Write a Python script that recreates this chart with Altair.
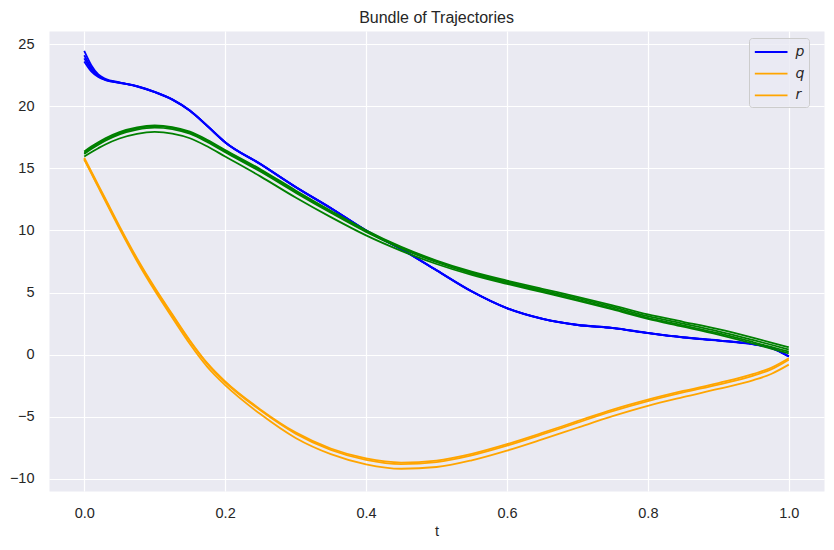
import pandas as pd
import altair as alt

# time grid shared by every trajectory
T = [0.0, 0.01, 0.02, 0.03, 0.05, 0.075, 0.1, 0.125, 0.15, 0.175, 0.2, 0.25, 0.3, 0.35,
     0.4, 0.45, 0.5, 0.55, 0.6, 0.65, 0.7, 0.75, 0.8, 0.85, 0.9, 0.95, 0.975, 1.0]

# p trajectories (blue)
P1 = [24.45, 23.30, 22.55, 22.20, 21.92, 21.62, 21.15, 20.55, 19.65, 18.40, 17.10, 15.35, 13.50, 11.80,
      10.00, 8.50, 6.80, 5.10, 3.75, 2.90, 2.40, 2.15, 1.75, 1.40, 1.15, 0.85, 0.55, -0.13]
P2 = [24.10, 23.10, 22.45, 22.15, 21.90, 21.60, 21.13, 20.52, 19.62, 18.38, 17.08, 15.33, 13.48, 11.78,
      9.98, 8.48, 6.78, 5.08, 3.73, 2.88, 2.38, 2.13, 1.73, 1.38, 1.13, 0.83, 0.53, -0.15]
P3 = [23.85, 22.95, 22.40, 22.12, 21.90, 21.62, 21.16, 20.56, 19.66, 18.41, 17.11, 15.36, 13.51, 11.81,
      10.01, 8.51, 6.81, 5.11, 3.76, 2.91, 2.41, 2.16, 1.76, 1.41, 1.16, 0.86, 0.56, -0.12]
P4 = [23.60, 22.80, 22.35, 22.10, 21.88, 21.58, 21.12, 20.53, 19.63, 18.39, 17.09, 15.34, 13.49, 11.79,
      9.99, 8.49, 6.79, 5.09, 3.74, 2.89, 2.39, 2.14, 1.74, 1.39, 1.14, 0.84, 0.54, -0.14]

# q trajectories (orange)
Q1 = [15.85, 14.75, 13.65, 12.55, 10.35, 7.75, 5.40, 3.25, 1.15, -0.70, -2.15, -4.40, -6.25, -7.55,
      -8.35, -8.68, -8.52, -7.98, -7.20, -6.30, -5.35, -4.42, -3.62, -2.92, -2.28, -1.55, -1.05, -0.28]
Q2 = [15.75, 14.65, 13.55, 12.45, 10.25, 7.65, 5.32, 3.18, 1.08, -0.76, -2.22, -4.48, -6.35, -7.66,
      -8.46, -8.80, -8.64, -8.10, -7.32, -6.42, -5.47, -4.55, -3.74, -3.04, -2.40, -1.68, -1.18, -0.40]
Q3 = [15.70, 14.60, 13.48, 12.36, 10.14, 7.52, 5.16, 2.98, 0.86, -1.00, -2.45, -4.78, -6.70, -8.00,
      -8.82, -9.18, -9.04, -8.50, -7.72, -6.82, -5.88, -4.95, -4.12, -3.42, -2.76, -2.04, -1.55, -0.80]

# r trajectories (drawn green)
R1 = [16.35, 16.75, 17.10, 17.42, 17.92, 18.30, 18.45, 18.32, 17.95, 17.28, 16.48, 14.93, 13.22, 11.58,
      10.02, 8.68, 7.58, 6.68, 5.96, 5.30, 4.66, 3.97, 3.24, 2.65, 2.05, 1.35, 0.98, 0.60]
R2 = [16.25, 16.65, 17.00, 17.32, 17.83, 18.22, 18.37, 18.25, 17.87, 17.20, 16.40, 14.85, 13.14, 11.50,
      9.95, 8.62, 7.52, 6.60, 5.87, 5.20, 4.55, 3.85, 3.10, 2.50, 1.88, 1.17, 0.80, 0.42]
R3 = [16.15, 16.55, 16.90, 17.22, 17.73, 18.12, 18.28, 18.16, 17.78, 17.10, 16.30, 14.74, 13.04, 11.42,
      9.88, 8.55, 7.44, 6.52, 5.78, 5.10, 4.44, 3.73, 2.97, 2.36, 1.73, 1.00, 0.62, 0.24]
R4 = [15.95, 16.30, 16.62, 16.92, 17.40, 17.78, 17.93, 17.80, 17.42, 16.75, 15.95, 14.35, 12.65, 11.07,
      9.60, 8.36, 7.30, 6.42, 5.70, 5.03, 4.36, 3.64, 2.88, 2.26, 1.62, 0.88, 0.48, 0.10]

X_TICKS = [0.0, 0.2, 0.4, 0.6, 0.8, 1.0]
Y_TICKS = [-10, -5, 0, 5, 10, 15, 20, 25]

FONT = "Liberation Sans"
TEXT = "#262626"


def to_long(series, trajs):
    rows = []
    for name, vals in trajs:
        for t, v in zip(T, vals):
            rows.append({"t": t, "value": v, "series": series, "traj": name})
    return rows


df_pq = pd.DataFrame(
    to_long("p", [("p1", P1), ("p2", P2), ("p3", P3), ("p4", P4)])
    + to_long("q", [("q1", Q1), ("q2", Q2), ("q3", Q3)])
)
df_r = pd.DataFrame(to_long("r", [("r1", R1), ("r2", R2), ("r3", R3), ("r4", R4)]))

x_enc = alt.X("t:Q", title="t",
              scale=alt.Scale(domain=[-0.05, 1.05], nice=False, zero=False),
              axis=alt.Axis(values=X_TICKS, format=".1f"))
y_enc = alt.Y("value:Q", title=None,
              scale=alt.Scale(domain=[-10.97, 26.05], nice=False, zero=False),
              axis=alt.Axis(values=Y_TICKS, format="d"))

pq = alt.Chart(df_pq).mark_line(strokeWidth=1.8, interpolate="monotone").encode(
    x=x_enc,
    y=y_enc,
    detail="traj:N",
    color=alt.Color(
        "series:N",
        scale=alt.Scale(domain=["p", "q", "r"], range=["#0000ff", "#ffa500", "#ffa500"]),
        legend=alt.Legend(
            title=None, orient="none", legendX=700, legendY=7,
            symbolType="M-1,0H3", symbolSize=267, symbolStrokeWidth=1.8,
            labelFont="DejaVu Sans", labelFontStyle="italic", labelFontSize=14,
            labelColor=TEXT, labelOffset=23, rowPadding=4.7, padding=4.5,
            fillColor="rgba(234,234,242,0.8)", strokeColor="#cccccc", cornerRadius=3,
        ),
    ),
)

r = alt.Chart(df_r).mark_line(strokeWidth=1.8, interpolate="monotone", color="#008000").encode(
    x=x_enc,
    y=y_enc,
    detail="traj:N",
)

chart = (
    alt.layer(pq, r)
    .properties(
        width=775, height=460,
        title=alt.TitleParams("Bundle of Trajectories", fontSize=16, font=FONT,
                              fontWeight="normal", color=TEXT, offset=5),
        autosize=alt.AutoSizeParams(type="none"),
        padding={"left": 41, "top": 23, "right": 2, "bottom": 50},
    )
    .configure(background="white")
    .configure_view(fill="#EAEAF2", stroke="transparent")
    .configure_axis(
        grid=True, gridColor="white", gridWidth=1.2, domain=False, ticks=False, tickSize=0,
        labelFont=FONT, labelFontSize=14.5, labelColor=TEXT, labelPadding=15,
        titleFont=FONT, titleFontSize=14.5, titleFontWeight="normal", titleColor=TEXT, titlePadding=5,
    )
)

chart.save("out.html", embed_options={"renderer": "svg", "actions": False})
